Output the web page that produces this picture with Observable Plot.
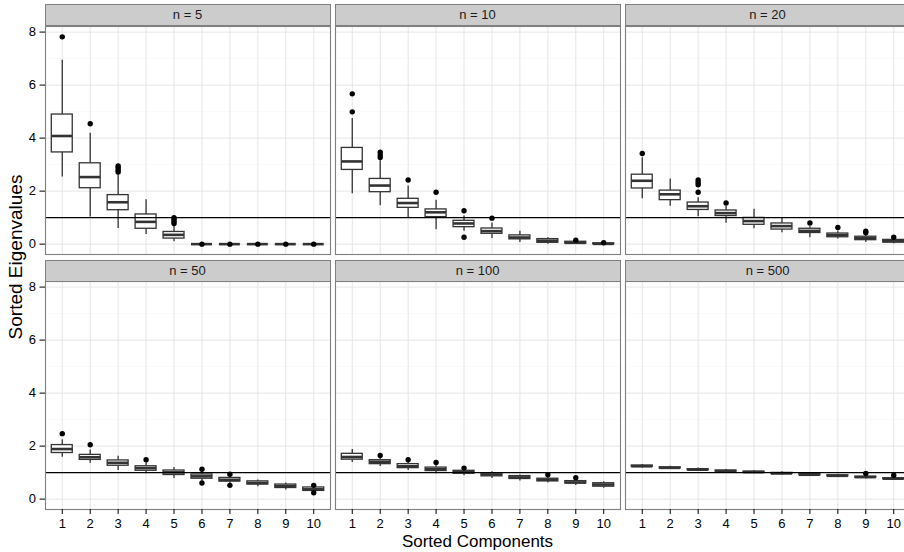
<!DOCTYPE html>
<html><head><meta charset="utf-8">
<script src="https://cdn.jsdelivr.net/npm/d3@7"></script>
<script src="https://cdn.jsdelivr.net/npm/@observablehq/plot@0.6"></script>
<style>
body{margin:0;background:#fff;}
#fig{position:relative;width:904px;height:552px;overflow:hidden;font-family:"Liberation Sans",Arial,Helvetica,sans-serif;background:#fff;}
.strip{position:absolute;box-sizing:border-box;background:#CCCCCC;border:1px solid #7F7F7F;text-align:center;font-size:13px;color:#1a1a1a;white-space:nowrap;}
.panel{position:absolute;}
.panel svg{max-width:none !important;}
.xtitle{position:absolute;left:477.5px;top:532.6px;transform:translateX(-50%);font-size:17px;line-height:17px;white-space:nowrap;color:#000;}
.ytitle{position:absolute;left:15px;top:257px;transform:translate(-50%,-50%) rotate(-90deg);font-size:19px;line-height:19px;white-space:nowrap;color:#000;}
</style></head><body><div id="fig"></div>
<script>
// ---- data ----
const panelLabels = ["n = 5", "n = 10", "n = 20", "n = 50", "n = 100", "n = 500"];
const components = [1, 2, 3, 4, 5, 6, 7, 8, 9, 10];
const majorY = [0, 2, 4, 6, 8];
const minorY = [1, 3, 5, 7];
const threshold = [1];

const whiskerLow = [
  [2.53, 1.02, 0.59, 0.36, 0.09, 0, 0, 0, 0, 0],
  [1.90, 1.45, 0.97, 0.54, 0.49, 0.21, 0.06, 0.00, 0.00, 0.00],
  [1.71, 1.43, 1.03, 0.79, 0.58, 0.43, 0.24, 0.19, 0.06, 0.01],
  [1.58, 1.35, 1.08, 0.96, 0.78, 0.68, 0.59, 0.47, 0.34, 0.28],
  [1.38, 1.23, 1.08, 0.96, 0.88, 0.78, 0.68, 0.61, 0.51, 0.41],
  [1.17, 1.12, 1.05, 1.00, 0.96, 0.91, 0.86, 0.82, 0.76, 0.70]
];
const lowerQuartile = [
  [3.46, 2.11, 1.28, 0.58, 0.21, 0, 0, 0, 0, 0],
  [2.80, 1.96, 1.37, 1.02, 0.64, 0.39, 0.18, 0.05, 0.02, 0.00],
  [2.10, 1.66, 1.29, 1.06, 0.73, 0.55, 0.42, 0.26, 0.15, 0.06],
  [1.74, 1.48, 1.26, 1.07, 0.91, 0.77, 0.66, 0.55, 0.42, 0.31],
  [1.49, 1.32, 1.17, 1.06, 0.96, 0.86, 0.76, 0.67, 0.59, 0.47],
  [1.22, 1.16, 1.09, 1.04, 1.00, 0.95, 0.90, 0.86, 0.81, 0.75]
];
const medians = [
  [4.08, 2.53, 1.58, 0.84, 0.35, 0, 0, 0, 0, 0],
  [3.12, 2.21, 1.55, 1.20, 0.78, 0.49, 0.25, 0.13, 0.05, 0.01],
  [2.39, 1.88, 1.43, 1.17, 0.87, 0.68, 0.50, 0.34, 0.22, 0.11],
  [1.89, 1.58, 1.37, 1.17, 1.01, 0.86, 0.73, 0.61, 0.49, 0.37],
  [1.59, 1.41, 1.24, 1.13, 1.02, 0.93, 0.82, 0.73, 0.63, 0.55],
  [1.24, 1.18, 1.11, 1.06, 1.02, 0.97, 0.92, 0.88, 0.83, 0.77]
];
const upperQuartile = [
  [4.89, 3.05, 1.85, 1.12, 0.46, 0, 0, 0, 0, 0],
  [3.63, 2.46, 1.71, 1.31, 0.88, 0.59, 0.33, 0.19, 0.09, 0.03],
  [2.62, 2.02, 1.57, 1.27, 0.99, 0.78, 0.58, 0.40, 0.28, 0.16],
  [2.04, 1.67, 1.46, 1.24, 1.08, 0.93, 0.80, 0.67, 0.55, 0.44],
  [1.71, 1.47, 1.32, 1.19, 1.07, 0.98, 0.87, 0.77, 0.68, 0.60],
  [1.27, 1.20, 1.13, 1.08, 1.04, 0.99, 0.94, 0.90, 0.85, 0.79]
];
const whiskerHigh = [
  [6.94, 4.18, 2.62, 1.67, 0.68, 0, 0, 0, 0, 0],
  [4.74, 3.15, 2.19, 1.66, 1.06, 0.80, 0.49, 0.24, 0.13, 0.05],
  [3.26, 2.46, 1.75, 1.42, 1.32, 0.99, 0.66, 0.49, 0.35, 0.20],
  [2.24, 1.85, 1.62, 1.39, 1.19, 1.01, 0.86, 0.72, 0.61, 0.46],
  [1.87, 1.56, 1.40, 1.26, 1.10, 1.03, 0.91, 0.83, 0.72, 0.66],
  [1.31, 1.24, 1.17, 1.12, 1.08, 1.03, 0.98, 0.94, 0.89, 0.83]
];
// [component, value]
const outliers = [
  [[1, 7.82], [2, 4.54], [3, 2.95], [3, 2.88], [3, 2.80], [3, 2.72], [5, 1.00], [5, 0.93], [5, 0.85], [5, 0.78], [6, 0], [7, 0], [8, 0], [9, 0], [10, 0]],
  [[1, 5.67], [1, 4.99], [2, 3.47], [2, 3.36], [2, 3.27], [3, 2.42], [4, 1.96], [5, 1.26], [5, 0.26], [6, 0.98], [9, 0.15], [10, 0.05]],
  [[1, 3.42], [3, 2.42], [3, 2.33], [3, 2.24], [3, 1.96], [4, 1.55], [7, 0.80], [8, 0.63], [9, 0.49], [9, 0.43], [10, 0.26]],
  [[1, 2.47], [2, 2.05], [4, 1.49], [6, 1.13], [6, 0.61], [7, 0.94], [7, 0.52], [10, 0.52], [10, 0.24]],
  [[2, 1.65], [3, 1.49], [4, 1.38], [5, 1.17], [8, 0.92], [9, 0.81]],
  [[9, 0.97], [10, 0.90]]
];

// ---- layout ----
const colX = [45, 335, 625];
const rowY = [25.5, 281];
const stripTop = [4, 260];
const panelW = 285, panelH = 228;
const boxHalf = 0.375;
const font = '"Liberation Sans", Arial, Helvetica, sans-serif';

const fig = document.getElementById("fig");

panelLabels.forEach((lab, i) => {
  const col = i % 3, row = Math.floor(i / 3);
  const mL = col === 0 ? 45 : 1, mR = 1, mT = 1, mB = row === 1 ? 40 : 1;

  const boxes = components.map((c, j) => ({
    c, lo: whiskerLow[i][j], q1: lowerQuartile[i][j], med: medians[i][j],
    q3: upperQuartile[i][j], hi: whiskerHigh[i][j]
  }));
  const outs = outliers[i].map(([c, v]) => ({c, v}));

  const marks = [
    Plot.ruleY(minorY, {stroke: "#FAFAFA", strokeWidth: 1}),
    Plot.ruleY(majorY, {stroke: "#E5E5E5", strokeWidth: 1}),
    Plot.ruleX(components, {stroke: "#E5E5E5", strokeWidth: 1}),
    Plot.ruleX(boxes, {x: "c", y1: "lo", y2: "q1", stroke: "#333333", strokeWidth: 1.3}),
    Plot.ruleX(boxes, {x: "c", y1: "q3", y2: "hi", stroke: "#333333", strokeWidth: 1.3}),
    Plot.rect(boxes, {x1: d => d.c - boxHalf, x2: d => d.c + boxHalf, y1: "q1", y2: "q3", fill: "white", stroke: "#333333", strokeWidth: 1.3}),
    Plot.ruleY(boxes, {y: "med", x1: d => d.c - boxHalf, x2: d => d.c + boxHalf, stroke: "#333333", strokeWidth: 2.6}),
    Plot.dot(outs, {x: "c", y: "v", r: 2.7, fill: "black", stroke: "none"}),
    Plot.ruleY(threshold, {stroke: "black", strokeWidth: 1.1}),
    Plot.frame({stroke: "#7F7F7F", strokeWidth: 1.1})
  ];
  if (col === 0) marks.push(Plot.axisY({ticks: majorY, tickSize: 5.5, tickPadding: 4, label: null, fontSize: 13, stroke: "black", fill: "black"}));
  if (row === 1) marks.push(Plot.axisX({ticks: components, tickSize: 5, tickPadding: 4, label: null, fontSize: 13, stroke: "black", fill: "black"}));

  const W = mL + panelW + mR, H = mT + panelH + mB;
  const chart = Plot.plot({
    width: W,
    height: H,
    marginLeft: mL, marginRight: mR, marginTop: mT, marginBottom: mB,
    x: {domain: [0.4, 10.6], axis: row === 1 ? undefined : null},
    y: {domain: [-0.391, 8.211], axis: col === 0 ? undefined : null},
    style: {fontFamily: font, fontSize: "13px", background: "transparent", overflow: "visible", color: "black", maxWidth: "none"},
    marks
  });
  const wrap = document.createElement("div");
  wrap.className = "panel";
  wrap.style.left = (colX[col] - mL) + "px";
  wrap.style.top = (rowY[row] - mT) + "px";
  wrap.style.width = W + "px";
  wrap.style.height = H + "px";
  wrap.appendChild(chart);
  fig.appendChild(wrap);

  const s = document.createElement("div");
  s.className = "strip";
  s.style.left = (colX[col] - 0.5) + "px";
  s.style.top = stripTop[row] + "px";
  s.style.width = (panelW + 1) + "px";
  s.style.height = "21.5px";
  s.style.lineHeight = "19.5px";
  s.textContent = lab;
  fig.appendChild(s);
});

const xt = document.createElement("div");
xt.className = "xtitle";
xt.textContent = "Sorted Components";
fig.appendChild(xt);
const yt = document.createElement("div");
yt.className = "ytitle";
yt.textContent = "Sorted Eigenvalues";
fig.appendChild(yt);
</script></body></html>
